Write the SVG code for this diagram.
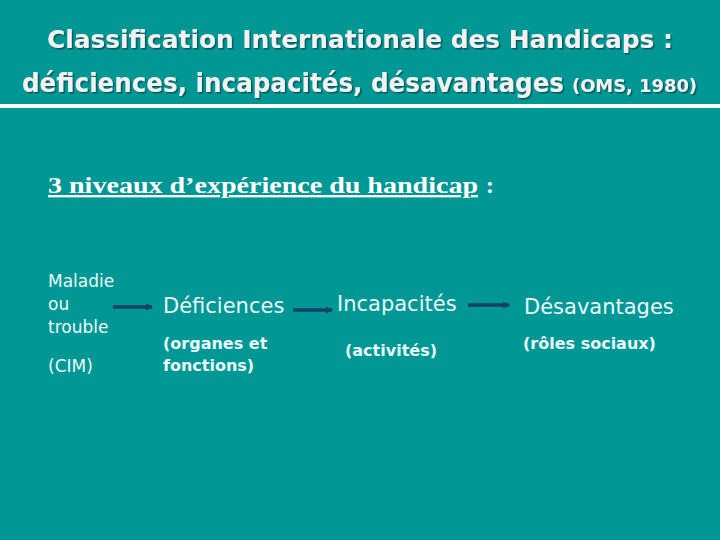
<svg xmlns="http://www.w3.org/2000/svg" width="720" height="540" viewBox="0 0 720 540">
<defs>
<marker id="ah" markerWidth="8" markerHeight="8" refX="6" refY="3.5" orient="auto" markerUnits="userSpaceOnUse">
<path d="M0,0 L7,3.5 L0,7 Z" fill="#173f6b"/>
</marker>
<filter id="sh" x="-5%" y="-20%" width="110%" height="140%">
<feDropShadow dx="1.5" dy="1.5" stdDeviation="0.5" flood-color="#004848" flood-opacity="0.8"/>
</filter>
</defs>
<style>
.t{font-family:"DejaVu Sans Condensed","DejaVu Sans",sans-serif;font-weight:bold;fill:#f2f2f2}
.n{font-family:"DejaVu Sans",Verdana,sans-serif;fill:#eafafa}
.b{font-family:"DejaVu Sans",Verdana,sans-serif;font-weight:bold;fill:#eafafa}
.c{stroke:#173f6b;stroke-width:3.5;fill:none}
</style>
<rect width="720" height="540" fill="#009795"/>
<g id="title" filter="url(#sh)">
<text class="t" x="360" y="48" font-size="25" text-anchor="middle" textLength="626" lengthAdjust="spacingAndGlyphs">Classification Internationale des Handicaps :</text>
<text class="t" x="22" y="92" font-size="26" textLength="542" lengthAdjust="spacingAndGlyphs">déficiences, incapacités, désavantages</text>
<text class="t" x="572" y="92" font-size="18" textLength="125" lengthAdjust="spacingAndGlyphs">(OMS, 1980)</text>
</g>
<rect x="0" y="104" width="720" height="4" fill="#ffffff"/>
<g id="heading">
<text x="48" y="193" font-family="'Liberation Serif','Times New Roman',serif" font-weight="bold" font-size="23.5" fill="#ffffff"><tspan text-decoration="underline" textLength="430" lengthAdjust="spacingAndGlyphs">3 niveaux d’expérience du handicap</tspan><tspan x="486">:</tspan></text>
</g>
<g id="maladie">
<text class="n" x="48" y="287" font-size="17">Maladie</text>
<text class="n" x="48" y="310" font-size="17">ou</text>
<text class="n" x="48" y="333" font-size="17">trouble</text>
<text class="n" x="48" y="372" font-size="17">(CIM)</text>
</g>
<g id="deficiences">
<text class="n" x="163" y="313" font-size="21">Déficiences</text>
<text class="b" x="163" y="349" font-size="16">(organes et</text>
<text class="b" x="163" y="371" font-size="16">fonctions)</text>
</g>
<g id="incapacites">
<text class="n" x="337" y="311" font-size="21">Incapacités</text>
<text class="b" x="345" y="356" font-size="16">(activités)</text>
</g>
<g id="desavantages">
<text class="n" x="524" y="314" font-size="21">Désavantages</text>
<text class="b" x="523" y="349" font-size="16">(rôles sociaux)</text>
</g>
<g id="connectors">
<line class="c" x1="113" y1="307" x2="152" y2="307" marker-end="url(#ah)"/>
<line class="c" x1="293" y1="310" x2="332" y2="310" marker-end="url(#ah)"/>
<line class="c" x1="468" y1="305" x2="509" y2="305" marker-end="url(#ah)"/>
</g>
</svg>
